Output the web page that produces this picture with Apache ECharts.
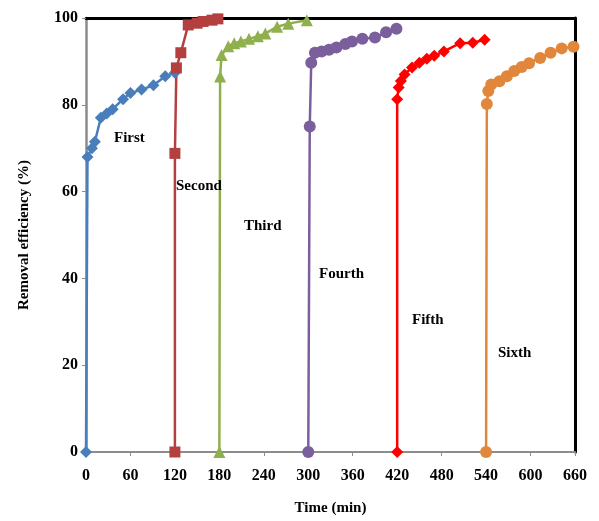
<!DOCTYPE html>
<html>
<head>
<meta charset="utf-8">
<script src="https://cdn.jsdelivr.net/npm/echarts@6/dist/echarts.min.js"></script>
<style>
html, body { margin: 0; padding: 0; background: #fff; }
#chart { width: 599px; height: 521px; }
</style>
</head>
<body>
<div id="chart"></div>
<script>
// time (min) / removal efficiency (%) for each cycle
const firstT = [0, 2, 8, 12, 20, 28, 36, 50, 60, 75, 91, 107, 120];
const firstV = [0, 68, 70, 71.5, 77, 78, 79, 81.3, 82.7, 83.5, 84.5, 86.6, 87.4];
const secondT = [120, 120, 122, 128, 138, 150, 158, 170, 178];
const secondV = [0, 68.8, 88.5, 92, 98.4, 98.8, 99.2, 99.5, 99.8];
const thirdT = [180, 181, 183, 192, 200, 209, 220, 232, 242, 258, 273, 298];
const thirdV = [0, 86.5, 91.5, 93.5, 94.2, 94.6, 95.2, 95.8, 96.4, 98, 98.7, 99.5];
const fourthT = [300, 302, 304, 309, 318, 328, 338, 350, 359, 373, 390, 405, 419];
const fourthV = [0, 75, 89.7, 92, 92.3, 92.7, 93.2, 94, 94.6, 95.2, 95.5, 96.7, 97.5];
const fifthT = [420, 420, 422, 425, 430, 440, 450, 460, 470, 483, 505, 522, 538];
const fifthV = [0, 81.3, 84, 85.5, 87, 88.6, 89.7, 90.6, 91.3, 92.3, 94.2, 94.3, 95];
const sixthT = [540, 541, 543, 547, 558, 568, 578, 588, 598, 613, 627, 642, 658];
const sixthV = [0, 80.2, 83.2, 84.7, 85.4, 86.6, 87.8, 88.7, 89.6, 90.8, 92, 93, 93.4];
const xTicks = [0, 60, 120, 180, 240, 300, 360, 420, 480, 540, 600, 660];
const yTicks = [0, 20, 40, 60, 80, 100];

const font = "'Liberation Serif', 'Times New Roman', serif";

function zip(ts, vs) {
    return ts.map((t, i) => [t, vs[i]]);
}

function line(name, ts, vs, color, symbol, size) {
    return {
        name: name,
        type: "line",
        data: zip(ts, vs),
        symbol: symbol,
        symbolSize: size,
        lineStyle: { color: color, width: 2.5 },
        itemStyle: { color: color },
        z: 3,
        animation: false,
    };
}

// cycle labels placed on the plot
const labels = [
    { text: "First", x: 114, y: 131 },
    { text: "Second", x: 176, y: 179 },
    { text: "Third", x: 244, y: 219 },
    { text: "Fourth", x: 319, y: 267 },
    { text: "Fifth", x: 412, y: 313 },
    { text: "Sixth", x: 498, y: 346 },
];

const chart = echarts.init(document.getElementById("chart"));
chart.setOption({
    backgroundColor: "#fff",
    grid: { left: 86, right: 24, top: 18, bottom: 63, containLabel: false },
    xAxis: [
        {
            type: "value",
            min: 0,
            max: 660,
            interval: 60,
            name: "Time (min)",
            nameLocation: "middle",
            nameGap: 49,
            nameTextStyle: { fontFamily: font, fontWeight: "bold", fontSize: 15, color: "#000" },
            axisLine: { show: true, onZero: false, lineStyle: { color: "#8c8c8c", width: 2 } },
            axisTick: { show: true, length: 4, lineStyle: { color: "#8c8c8c" } },
            axisLabel: {
                margin: 16,
                fontFamily: font,
                fontWeight: "bold",
                fontSize: 16,
                color: "#000",
                formatter: (v) => xTicks.includes(v) ? String(v) : "",
            },
            splitLine: { show: false },
        },
        {
            type: "value",
            position: "top",
            min: 0,
            max: 660,
            axisLine: { show: true, onZero: false, lineStyle: { color: "#000", width: 3 } },
            axisTick: { show: false },
            axisLabel: { show: false },
            splitLine: { show: false },
        },
    ],
    yAxis: [
        {
            type: "value",
            min: 0,
            max: 100,
            interval: 20,
            name: "Removal efficiency (%)",
            nameLocation: "middle",
            nameGap: 54,
            nameTextStyle: { fontFamily: font, fontWeight: "bold", fontSize: 15, color: "#000" },
            axisLine: { show: true, onZero: false, lineStyle: { color: "#8c8c8c", width: 2.5 } },
            axisTick: { show: true, length: 4, lineStyle: { color: "#8c8c8c" } },
            axisLabel: {
                margin: 8,
                fontFamily: font,
                fontWeight: "bold",
                fontSize: 16,
                color: "#000",
                formatter: (v) => yTicks.includes(v) ? String(v) : "",
            },
            splitLine: { show: false },
        },
        {
            type: "value",
            position: "right",
            min: 0,
            max: 100,
            axisLine: { show: true, onZero: false, lineStyle: { color: "#000", width: 3 } },
            axisTick: { show: false },
            axisLabel: { show: false },
            splitLine: { show: false },
        },
    ],
    series: [
        line("First", firstT, firstV, "#4A7EBB", "diamond", 12),
        line("Second", secondT, secondV, "#B3403F", "rect", 11),
        line("Third", thirdT, thirdV, "#8FB04D", "triangle", 12),
        line("Fourth", fourthT, fourthV, "#7A5F9C", "circle", 12),
        line("Fifth", fifthT, fifthV, "#FF0000", "diamond", 12),
        line("Sixth", sixthT, sixthV, "#E0873C", "circle", 12),
    ],
    graphic: labels.map((l) => ({
        type: "text",
        left: l.x,
        top: l.y,
        z: 10,
        style: {
            text: l.text,
            fontFamily: font,
            fontWeight: "bold",
            fontSize: 15,
            fill: "#000",
        },
    })),
});
</script>
</body>
</html>
